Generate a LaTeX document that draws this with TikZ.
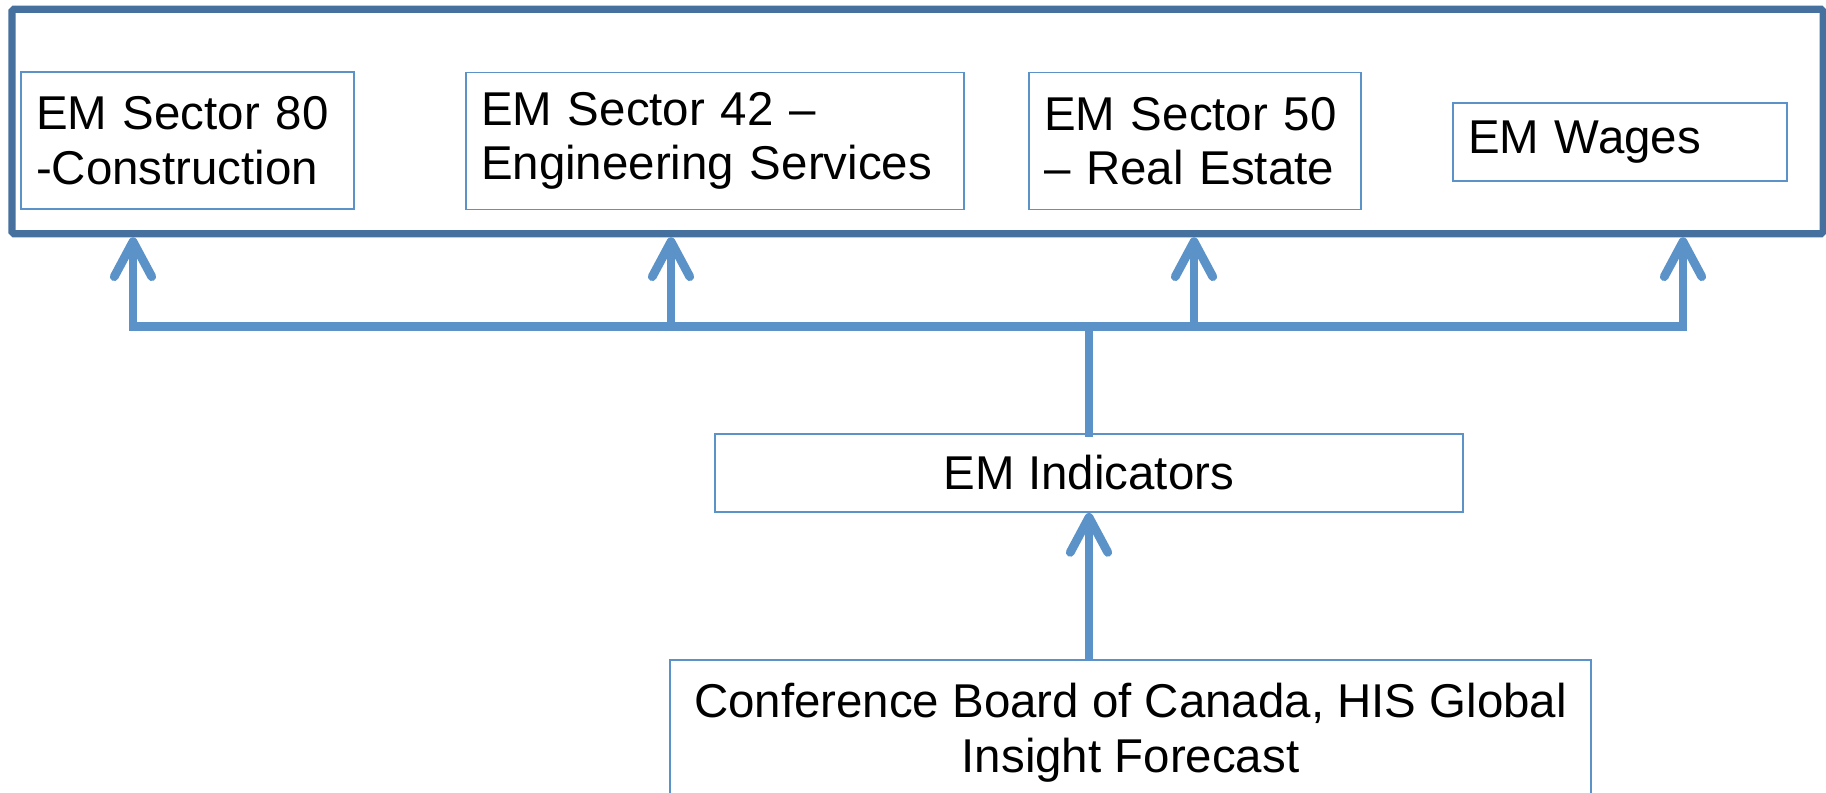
\documentclass[tikz,border=0pt]{standalone}
\usepackage{fontspec}
\setmainfont{Liberation Sans}
\usetikzlibrary{arrows.meta}
\definecolor{frameblue}{HTML}{46709E}
\definecolor{lineblue}{HTML}{5B92C8}

\begin{document}
\begin{tikzpicture}[
    sector/.style={draw=lineblue, line width=1.1pt, rectangle, align=left, inner xsep=0.3cm, inner ysep=0pt, font=\fontsize{27}{31}\selectfont},
    source/.style={draw=lineblue, line width=1.1pt, rectangle, align=center, inner sep=0pt, font=\fontsize{27}{31}\selectfont},
    feed/.style={draw=lineblue, line width=5pt, -{Straight Barb[length=0.7cm, width=0.75cm, round]}},
    bus/.style={draw=lineblue, line width=5pt, line cap=rect}
]
    \useasboundingbox (0,0) rectangle (36.52,15.84);
    %   Frame holding the model outputs
    \node[draw=frameblue, line width=4pt, rectangle, rounded corners=1pt, minimum width=36.22cm, minimum height=4.49cm] (model) at (18.35,13.41) {};
    \node[sector, text width=6.06cm, minimum height=2.74cm] (s80) at (3.75,13.03) {EM Sector 80\\-Construction};
    \node[sector, text width=9.36cm, minimum height=2.74cm] (s42) at (14.30,13.02) {EM Sector 42 --\\Engineering Services};
    \node[sector, text width=6.04cm, minimum height=2.74cm] (s50) at (23.90,13.02) {EM Sector 50\\-- Real Estate};
    \node[sector, text width=6.08cm, minimum height=1.56cm] (wages) at (32.40,13.00) {EM Wages};

    %   Inputs below
    \node[source, minimum width=14.96cm, minimum height=1.56cm] (ind) at (21.78,6.38) {EM Indicators};
    \node[source, minimum width=18.42cm, minimum height=2.92cm, anchor=north] (fc) at (22.61,2.66) {Conference Board of Canada, HIS Global\\Insight Forecast};

    %   Junctions on the distribution line
    \coordinate (j1) at (2.66,9.31);
    \coordinate (j2) at (13.42,9.31);
    \coordinate (j3) at (23.88,9.31);
    \coordinate (j4) at (33.66,9.31);

    \draw[bus] (j1) -- (j4);
    \draw[bus] (ind.north) -- (ind.north |- j1);
    \draw[feed] (j1) -- (j1 |- model.south);
    \draw[feed] (j2) -- (j2 |- model.south);
    \draw[feed] (j3) -- (j3 |- model.south);
    \draw[feed] (j4) -- (j4 |- model.south);
    \draw[feed] (ind.south |- fc.north) -- (ind.south);
\end{tikzpicture}
\end{document}
